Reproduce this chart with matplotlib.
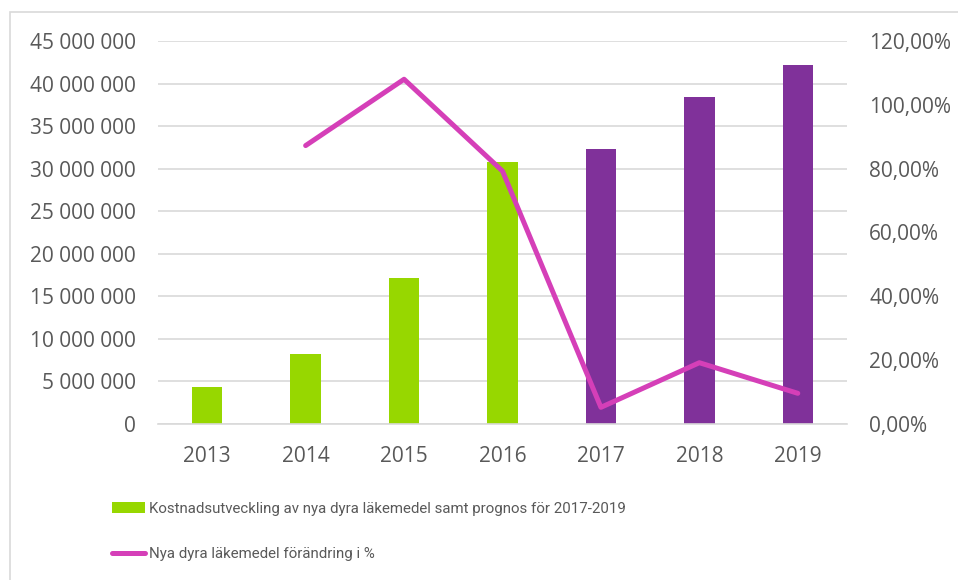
import numpy as np
import matplotlib
matplotlib.use("Agg")
import matplotlib.pyplot as plt
from matplotlib.patches import Rectangle
from matplotlib.lines import Line2D
from matplotlib.ticker import FuncFormatter

years = ["2013", "2014", "2015", "2016", "2017", "2018", "2019"]
cost = [4_340_000, 8_190_000, 17_130_000, 30_780_000, 32_300_000, 38_420_000, 42_190_000]
change_pct = [np.nan, 87.2, 108.0, 79.2, 5.1, 19.1, 9.5]
forecast_from = "2017"

bar_label = "Kostnadsutveckling av nya dyra läkemedel samt prognos för 2017-2019"
line_label = "Nya dyra läkemedel förändring i %"

GREEN = "#97D700"
PURPLE = "#80319A"
MAGENTA = "#D53FB8"
TEXT = "#595959"
GRID = "#D9D9D9"

plt.rcParams["font.family"] = ["Open Sans", "DejaVu Sans"]

fig = plt.figure(figsize=(9.58, 5.8), dpi=100)
# chart frame, cut off on the right and bottom like the source
fig.patches.append(Rectangle((10 / 958, -0.1), 1.2, 1 - 12 / 580 + 0.1, transform=fig.transFigure,
                             fill=False, edgecolor=GRID, linewidth=1.2))

ax = fig.add_axes([158 / 958, 1 - 423.6 / 580, 689 / 958, 382.6 / 580])
x = np.arange(len(years))
colors = [PURPLE if y >= forecast_from else GREEN for y in years]
ax.bar(x, cost, width=0.31, color=colors, zorder=2)
ax.set_xlim(-0.5, len(years) - 0.5)
ax.set_ylim(0, 45_000_000)
ax.set_yticks(np.arange(0, 45_000_001, 5_000_000))
ax.yaxis.set_major_formatter(FuncFormatter(lambda v, p: f"{int(v):,}".replace(",", " ")))
ax.set_xticks(x)
ax.set_xticklabels(years)
ax.grid(axis="y", color=GRID, linewidth=1.2, zorder=0)
ax.set_axisbelow(True)
for side in ["top", "right", "left"]:
    ax.spines[side].set_visible(False)
ax.spines["bottom"].set_color(GRID)
ax.spines["bottom"].set_linewidth(1.2)
ax.tick_params(axis="y", length=0, pad=16, labelsize=15, labelcolor=TEXT)
ax.tick_params(axis="x", length=0, pad=16, labelsize=15, labelcolor=TEXT)

ax2 = ax.twinx()
ax2.plot(x, change_pct, color=MAGENTA, linewidth=3.6, solid_capstyle="round", zorder=3)
ax2.set_ylim(0, 120)
ax2.set_yticks(np.arange(0, 121, 20))
ax2.yaxis.set_major_formatter(FuncFormatter(lambda v, p: f"{v:.2f}".replace(".", ",") + "%"))
for side in ["top", "right", "left", "bottom"]:
    ax2.spines[side].set_visible(False)
ax2.tick_params(axis="y", length=0, pad=16, labelsize=15, labelcolor=TEXT)

handles = [Rectangle((0, 0), 1, 1, facecolor=GREEN),
           Line2D([0], [0], color=MAGENTA, linewidth=3.6, solid_capstyle="round")]
fig.legend(handles, [bar_label, line_label], loc="upper left",
           bbox_to_anchor=(104 / 958, 1 - 494 / 580), frameon=False, borderpad=0,
           prop={"family": ["Roboto", "DejaVu Sans"], "size": 10.8},
           labelcolor=TEXT, handlelength=2.25, handleheight=0.85, handletextpad=0.27,
           labelspacing=2.1)

fig.savefig("out.png", dpi=100)
